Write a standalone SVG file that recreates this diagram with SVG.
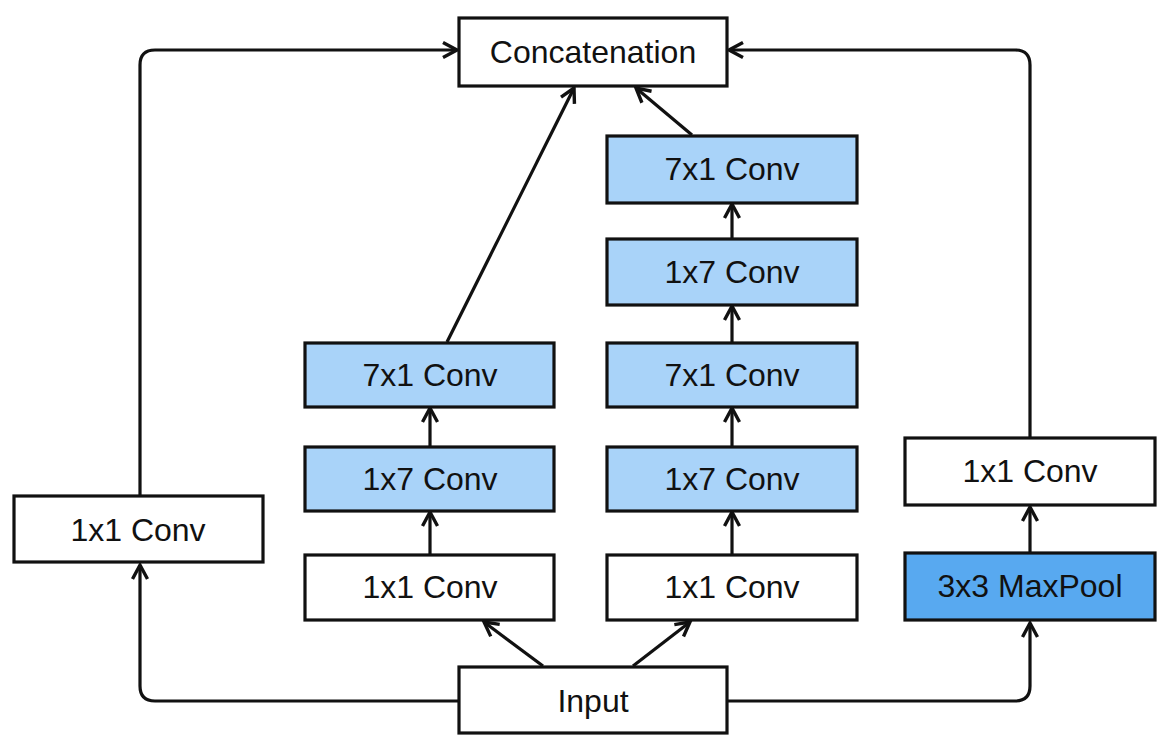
<svg xmlns="http://www.w3.org/2000/svg" width="1168" height="745" viewBox="0 0 1168 745">
<style>
.box{stroke:#111;stroke-width:3.2;fill:#fff}
.lb{fill:#a9d3f9}
.mp{fill:#58a9f0}
.t{font-family:"Liberation Sans",Arial,sans-serif;font-size:32px;fill:#111;text-anchor:middle;dominant-baseline:central}
.c{fill:none;stroke:#111;stroke-width:3.2;marker-end:url(#ah)}
</style>
<defs>
<marker id="ah" markerUnits="userSpaceOnUse" markerWidth="22" markerHeight="22" viewBox="0 0 22 22" refX="18" refY="11" orient="auto">
<path d="M4,3.5 L18,11 L4,18.5" fill="none" stroke="#111" stroke-width="3.4" stroke-linejoin="miter"/>
</marker>
</defs>
<rect width="1168" height="745" fill="#fff"/>
<g id="connectors">
<path class="c" d="M459,701 H155 Q140,701 140,686 V565"/>
<path class="c" d="M727,701 H1015 Q1030,701 1030,686 V623"/>
<path class="c" d="M140,495 V65 Q140,50 155,50 H457"/>
<path class="c" d="M1030,437 V65 Q1030,50 1015,50 H729"/>
<path class="c" d="M1030,553 V507"/>
<path class="c" d="M543,666 L484,622"/>
<path class="c" d="M633,666 L690,622"/>
<path class="c" d="M430,555 V512"/>
<path class="c" d="M430,447 V408"/>
<path class="c" d="M447,342 L574,88"/>
<path class="c" d="M732,555 V512"/>
<path class="c" d="M732,447 V408"/>
<path class="c" d="M732,342 V306"/>
<path class="c" d="M732,239 V204"/>
<path class="c" d="M692,135 L636,88"/>
</g>
<g id="concat"><rect class="box" x="459" y="18" width="268" height="68"/><text class="t" x="593" y="52">Concatenation</text></g>
<g id="input"><rect class="box" x="459" y="667" width="268" height="66"/><text class="t" x="593" y="701">Input</text></g>
<g id="left-1x1"><rect class="box" x="14" y="496" width="249" height="66"/><text class="t" x="138" y="530">1x1 Conv</text></g>
<g id="c1-1x1"><rect class="box" x="305" y="555" width="249" height="65"/><text class="t" x="430" y="587">1x1 Conv</text></g>
<g id="c1-1x7"><rect class="box lb" x="305" y="447" width="249" height="64"/><text class="t" x="430" y="479">1x7 Conv</text></g>
<g id="c1-7x1"><rect class="box lb" x="305" y="343" width="249" height="64"/><text class="t" x="430" y="375">7x1 Conv</text></g>
<g id="c2-1x1"><rect class="box" x="607" y="555" width="250" height="65"/><text class="t" x="732" y="587">1x1 Conv</text></g>
<g id="c2-1x7a"><rect class="box lb" x="607" y="447" width="250" height="64"/><text class="t" x="732" y="479">1x7 Conv</text></g>
<g id="c2-7x1a"><rect class="box lb" x="607" y="343" width="250" height="64"/><text class="t" x="732" y="375">7x1 Conv</text></g>
<g id="c2-1x7b"><rect class="box lb" x="607" y="239" width="250" height="66"/><text class="t" x="732" y="272">1x7 Conv</text></g>
<g id="c2-7x1b"><rect class="box lb" x="607" y="136" width="250" height="67"/><text class="t" x="732" y="169">7x1 Conv</text></g>
<g id="r-1x1"><rect class="box" x="905" y="438" width="250" height="67"/><text class="t" x="1030" y="471">1x1 Conv</text></g>
<g id="r-maxpool"><rect class="box mp" x="905" y="553" width="250" height="67"/><text class="t" x="1030" y="586">3x3 MaxPool</text></g>
</svg>
